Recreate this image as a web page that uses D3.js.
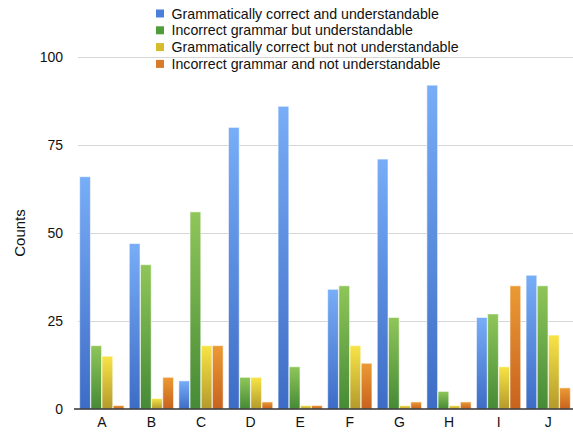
<!DOCTYPE html>
<html>
<head>
<meta charset="utf-8">
<script src="https://cdn.jsdelivr.net/npm/d3@7"></script>
<style>
  html, body { margin: 0; padding: 0; background: #fff; }
  svg { display: block; font-family: "Liberation Sans", Arial, Helvetica, sans-serif; }
</style>
</head>
<body>
<svg id="chart" width="573" height="432"></svg>
<script>
const categories = ["A","B","C","D","E","F","G","H","I","J"];
const seriesNames = [
  "Grammatically correct and understandable",
  "Incorrect grammar but understandable",
  "Grammatically correct but not understandable",
  "Incorrect grammar and not understandable"
];
const correctUnderstandable   = [66, 47, 8, 80, 86, 34, 71, 92, 26, 38];
const incorrectUnderstandable = [18, 41, 56, 9, 12, 35, 26, 5, 27, 35];
const correctNotUnderstandable = [15, 3, 18, 9, 1, 18, 1, 1, 12, 21];
const incorrectNotUnderstandable = [1, 9, 18, 2, 1, 13, 2, 2, 35, 6];
const yTicks = [0, 25, 50, 75, 100];

(function () {
const seriesValues = [correctUnderstandable, incorrectUnderstandable, correctNotUnderstandable, incorrectNotUnderstandable];
const seriesColors = [
  {top: "#78adf7", bottom: "#3d6cc6", key: "#4a80dc"},
  {top: "#8fc659", bottom: "#468a36", key: "#4f9c3a"},
  {top: "#f8e446", bottom: "#b39a2c", key: "#d6bc2c"},
  {top: "#eb9a34", bottom: "#c8621e", key: "#d97a2a"}
];

const svg = d3.select("#chart");
const mLeft = 77, mRight = 573, mTop = 57, mBottom = 409;

const x0 = d3.scaleBand().domain(categories).range([mLeft, mRight]).paddingInner(0.09).paddingOuter(0.045);
const x1 = d3.scaleBand().domain(d3.range(seriesNames.length)).range([0, x0.bandwidth()]).padding(0.04);
const y = d3.scaleLinear().domain([0, 100]).range([mBottom, mTop]);

const defs = svg.append("defs");
seriesColors.forEach((c, i) => {
  const g = defs.append("linearGradient").attr("id", "grad" + i)
    .attr("x1", 0).attr("y1", 0).attr("x2", 0).attr("y2", 1);
  g.append("stop").attr("offset", "0%").attr("stop-color", c.top);
  g.append("stop").attr("offset", "100%").attr("stop-color", c.bottom);
});

// gridlines
svg.append("g").selectAll("line").data(yTicks.filter(d => d > 0)).join("line")
  .attr("x1", mLeft + 1).attr("x2", mRight)
  .attr("y1", d => Math.round(y(d)) + 0.5).attr("y2", d => Math.round(y(d)) + 0.5)
  .attr("stroke", "#d6d6d6").attr("stroke-width", 1);

// y axis labels
const yAxis = d3.axisLeft(y).tickValues(yTicks).tickSize(0).tickPadding(0);
const yg = svg.append("g").attr("transform", `translate(${mLeft - 14},0)`).call(yAxis);
yg.select(".domain").remove();
yg.selectAll("text").attr("font-size", 14).attr("fill", "#111")
  .style("font-family", "\"Liberation Sans\", Arial, sans-serif");

// bars
const groups = svg.append("g").selectAll("g").data(categories).join("g")
  .attr("transform", d => `translate(${x0(d)},0)`);
groups.selectAll("rect").data((d, ci) => seriesValues.map((vals, si) => ({si, v: vals[ci]}))).join("rect")
  .attr("x", d => x1(d.si))
  .attr("width", x1.bandwidth())
  .attr("y", d => y(d.v))
  .attr("height", d => y(0) - y(d.v))
  .attr("fill", d => `url(#grad${d.si})`)
  .attr("stroke", "rgba(255,255,255,0.55)")
  .attr("stroke-width", 1);

// x axis
const xAxis = d3.axisBottom(x0).tickSize(0).tickPadding(8);
const xg = svg.append("g").attr("transform", `translate(0,${mBottom})`).call(xAxis);
xg.select(".domain").attr("stroke", "#333").attr("stroke-width", 1.5).attr("d", `M${mLeft},0H${mRight}`);
xg.selectAll("text").attr("font-size", 14).attr("fill", "#111")
  .style("font-family", "\"Liberation Sans\", Arial, sans-serif");
svg.append("line").attr("x1", mLeft - 3).attr("x2", mLeft).attr("y1", mBottom).attr("y2", mBottom)
  .attr("stroke", "#333").attr("stroke-width", 1.5);

// y label
svg.append("text").attr("transform", `translate(25,${(mTop + mBottom) / 2}) rotate(-90)`)
  .attr("text-anchor", "middle").attr("font-size", 15).attr("fill", "#111").text("Counts");

// legend
const legend = svg.append("g").attr("transform", "translate(156,6)");
const rows = legend.selectAll("g").data(seriesNames).join("g")
  .attr("transform", (d, i) => `translate(0,${i * 16.8})`);
rows.append("rect").attr("x", 0).attr("y", 3.5).attr("width", 8).attr("height", 8)
  .attr("fill", (d, i) => seriesColors[i].key);
rows.append("text").attr("x", 15.5).attr("y", 12.5).attr("font-size", 14.2).attr("fill", "#111").text(d => d);
})();
</script>
</body>
</html>
